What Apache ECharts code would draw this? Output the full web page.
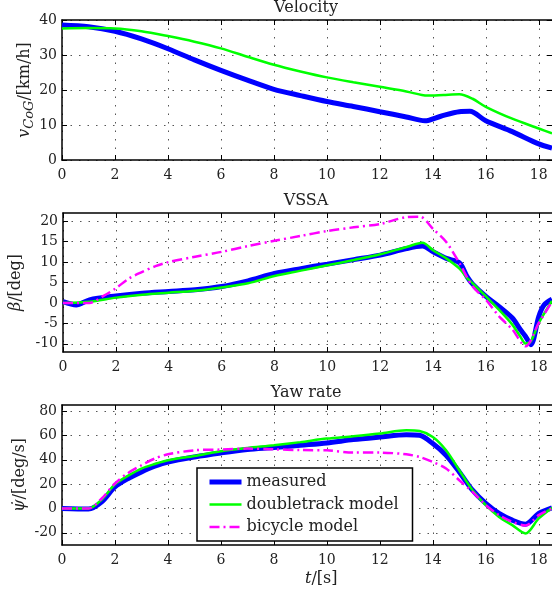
<!DOCTYPE html>
<html>
<head>
<meta charset="utf-8">
<script src="https://cdn.jsdelivr.net/npm/echarts@6/dist/echarts.min.js"></script>
<style>
html,body{margin:0;padding:0;background:#fff;}
#chart{width:552px;height:597px;}
</style>
</head>
<body>
<div id="chart"></div>
<script>
// ---------- data ----------
const titles = ['Velocity', 'VSSA', 'Yaw rate'];
const seriesNames = ['measured', 'doubletrack model', 'bicycle model'];
const xTicks = [0, 2, 4, 6, 8, 10, 12, 14, 16, 18];

// Velocity [km/h]
const tVelMeas = [0,1,2,3,4,5,6,7,8,9,10,11,12,13,13.7,14.3,15,15.4,16,17,18,18.5];
const velMeas  = [38.6,38.1,36.8,34.6,31.8,28.6,25.6,22.8,20.2,18.4,16.7,15.3,13.8,12.3,11.2,12.5,13.8,13.9,11.2,8.1,4.6,3.4];
const tVelDouble = [0,1,2,3,4,5,6,7,8,9,10,11,12,13,13.8,14.4,15,15.5,16,17,18,18.5];
const velDouble  = [37.6,37.7,37.6,36.8,35.4,33.8,31.9,29.5,27.2,25.3,23.6,22.2,20.9,19.6,18.4,18.6,18.8,17.5,15.2,11.8,9.0,7.6];
const velTicks = [0, 10, 20, 30, 40];

// VSSA [deg]
const tBetaMeas = [0,0.5,1,2,3,4,5,6,7,8,9,10,11,12,13,13.6,14,14.5,15,15.3,15.5,16,16.5,17,17.3,17.5,17.7,18,18.2,18.5];
const betaMeas  = [0.3,-0.5,0.75,1.7,2.4,2.8,3.2,4,5.4,7.2,8.4,9.5,10.6,11.7,13.3,13.9,12.5,10.9,9.8,6.3,4.6,1.6,-0.9,-3.7,-6.5,-8.2,-10.2,-3.3,-0.5,0.9];
const tBetaDouble = [0,1,2,3,4,5,6,7,8,9,10,11,12,13,13.6,14,14.5,15,15.3,15.5,16,16.5,17,17.3,17.5,17.7,18,18.5];
const betaDouble  = [0,0.3,1.3,2,2.5,3,3.8,4.8,6.6,7.9,9.2,10.5,11.9,13.7,14.7,12.9,10.9,8.4,6,4.8,1.6,-1.7,-5.3,-8.2,-9.9,-9.4,-4.9,0.5];
const tBetaBicycle = [0,1,1.5,2,2.5,3,3.5,4,5,6,7,8,9,10,11,12,13,13.5,14,14.5,15,15.5,16,16.5,17,17.5,18,18.5];
const betaBicycle  = [0,0,1.6,3.6,6,7.6,9,10,11.3,12.5,13.9,15.2,16.4,17.6,18.5,19.3,21,21.1,18.1,14.9,9.7,4,0.75,-3.3,-6.5,-10.6,-4.9,0.3];
const betaTicks = [-10, -5, 0, 5, 10, 15, 20];

// Yaw rate [deg/s]
const tYaw = [0,1,1.5,2,2.5,3,3.5,4,5,6,7,8,9,10,11,12,13,13.5,14,14.5,15,15.5,16,16.5,17,17.5,18,18.5];
const yawMeas    = [0,-0.5,5.4,17.7,24.6,30,34.7,38.2,42.3,45.6,48.4,50,51.9,53.8,56.6,58.7,60.6,60.1,53.3,43.7,30,15,4.1,-4.1,-9.6,-12.9,-4.1,0.5];
const yawDouble  = [0,0,7.4,19.9,27,32.8,36.5,39.6,43.1,47,49.7,51.9,54.5,57.4,59.3,61.5,64.2,63.6,58.7,47.8,31.4,15,2.7,-6.9,-13.7,-20.5,-8.2,0.5];
const yawBicycle = [0,0,8.2,20.5,29.2,35.5,41,44.5,47.8,48.4,49.2,48.6,48,47.8,45.9,45.9,44.5,42.3,38.2,32.8,23.2,13.6,2.7,-5.5,-11,-14,-5.5,0];
const yawTicks = [-20, 0, 20, 40, 60, 80];

// ---------- chart ----------
const FONT = 'DejaVu Serif';
const zip = (xs, ys) => xs.map((x, i) => [x, ys[i]]);

const grids = [
  {left: 62, top: 20, width: 490, height: 140},
  {left: 62, top: 213, width: 490, height: 139},
  {left: 62, top: 405, width: 490, height: 140}
];
const yRanges = [[0, 40], [-12, 22], [-30, 85]];
const yTickSets = [velTicks, betaTicks, yawTicks];
const yNames = [
  '{it|v}{sub|CoG}{n|/[km/h]}',
  '{it|β}{n|/[deg]}',
  '{it|ψ̇}{n|/[deg/s]}'
];
const yGaps = [26, 36, 31];

const gridLine = {show: true, lineStyle: {color: '#555', width: 1, type: [1.5, 7]}};
const tickStyle = {show: true, inside: true, length: 5, lineStyle: {color: '#000', width: 1}};
const richY = {
  it: {fontFamily: FONT, fontStyle: 'italic', fontSize: 16, color: '#222', lineHeight: 22},
  sub: {fontFamily: FONT, fontStyle: 'italic', fontSize: 13, color: '#222', verticalAlign: 'bottom', lineHeight: 13},
  n: {fontFamily: FONT, fontSize: 16, color: '#222', lineHeight: 22}
};

const xAxes = [], yAxes = [];
grids.forEach((g, i) => {
  xAxes.push({
    type: 'value', gridIndex: i, min: 0, max: 18.5, interval: 2, position: 'bottom',
    axisLine: {show: true, onZero: false, lineStyle: {color: '#000', width: 1.5}},
    axisTick: Object.assign({}, tickStyle, {customValues: xTicks}),
    axisLabel: {fontFamily: FONT, fontSize: 14, color: '#222', margin: 8, customValues: xTicks},
    splitLine: gridLine
  });
  xAxes.push({
    type: 'value', gridIndex: i, min: 0, max: 18.5, interval: 2, position: 'top',
    axisLine: {show: true, onZero: false, lineStyle: {color: '#000', width: 1.5}},
    axisTick: Object.assign({}, tickStyle, {customValues: xTicks}),
    axisLabel: {show: false}, splitLine: {show: false}
  });
  yAxes.push({
    type: 'value', gridIndex: i, min: yRanges[i][0], max: yRanges[i][1], position: 'left',
    axisLine: {show: true, onZero: false, lineStyle: {color: '#000', width: 1.5}},
    axisTick: Object.assign({}, tickStyle, {customValues: yTickSets[i]}),
    axisLabel: {fontFamily: FONT, fontSize: 14, color: '#222', margin: 5, customValues: yTickSets[i]},
    splitLine: gridLine,
    name: yNames[i], nameLocation: 'middle', nameRotate: 90, nameGap: yGaps[i],
    nameMoveOverlap: false,
    nameTextStyle: {rich: richY}
  });
  yAxes.push({
    type: 'value', gridIndex: i, min: yRanges[i][0], max: yRanges[i][1], position: 'right',
    axisLine: {show: false, onZero: false},
    axisTick: Object.assign({}, tickStyle, {customValues: yTickSets[i]}),
    axisLabel: {show: false}, splitLine: {show: false}
  });
});

const blue = '#0000ff', green = '#00ff00', magenta = '#ff00ff';
function lineSeries(name, gi, data, color, width, type, z) {
  return {
    name, type: 'line', xAxisIndex: gi * 2, yAxisIndex: gi * 2, data,
    symbol: 'none', smooth: 0.3, z,
    lineStyle: {color, width, type: type || 'solid'},
    itemStyle: {color}
  };
}
const dashDot = [10, 4, 2, 4];
const series = [
  lineSeries(seriesNames[0], 0, zip(tVelMeas, velMeas), blue, 5, 'solid', 2),
  lineSeries(seriesNames[1], 0, zip(tVelDouble, velDouble), green, 2.5, 'solid', 3),
  lineSeries(seriesNames[0], 1, zip(tBetaMeas, betaMeas), blue, 5, 'solid', 2),
  lineSeries(seriesNames[1], 1, zip(tBetaDouble, betaDouble), green, 2.5, 'solid', 3),
  lineSeries(seriesNames[2], 1, zip(tBetaBicycle, betaBicycle), magenta, 2.5, dashDot, 4),
  lineSeries(seriesNames[0], 2, zip(tYaw, yawMeas), blue, 5, 'solid', 2),
  lineSeries(seriesNames[1], 2, zip(tYaw, yawDouble), green, 2.5, 'solid', 3),
  lineSeries(seriesNames[2], 2, zip(tYaw, yawBicycle), magenta, 2.5, dashDot, 4)
];

const titleTops = [0, 193, 385];
const option = {
  animation: false,
  backgroundColor: '#fff',
  title: titles.map((t, i) => ({
    text: t, left: 306, top: titleTops[i], textAlign: 'center', padding: 0,
    textStyle: {fontFamily: FONT, fontSize: 16, fontWeight: 'normal', color: '#222'}
  })),
  grid: grids,
  xAxis: xAxes,
  yAxis: yAxes,
  legend: {
    data: [
      {name: seriesNames[0], lineStyle: {width: 5}},
      {name: seriesNames[1], lineStyle: {width: 2.5}},
      {name: seriesNames[2], lineStyle: {width: 2.5}}
    ],
    orient: 'vertical', left: 197, top: 468,
    backgroundColor: '#fff', borderColor: '#000', borderWidth: 1.5,
    padding: [6, 14, 6, 10], itemWidth: 32, itemHeight: 14, itemGap: 6.5, itemTextGap: 11,
    itemStyle: {opacity: 0},
    textStyle: {fontFamily: FONT, fontSize: 16, color: '#222', lineHeight: 16},
    z: 10
  },
  graphic: [{
    type: 'text', left: 305, top: 571, z: 10,
    style: {
      rich: {
        it: {fontFamily: FONT, fontStyle: 'italic', fontSize: 16, fill: '#222'},
        n: {fontFamily: FONT, fontSize: 16, fill: '#222'}
      },
      text: '{it|t}{n|/[s]}'
    }
  }],
  series
};
const chart = echarts.init(document.getElementById('chart'), null, {renderer: 'canvas'});
chart.setOption(option);
</script>
</body>
</html>
